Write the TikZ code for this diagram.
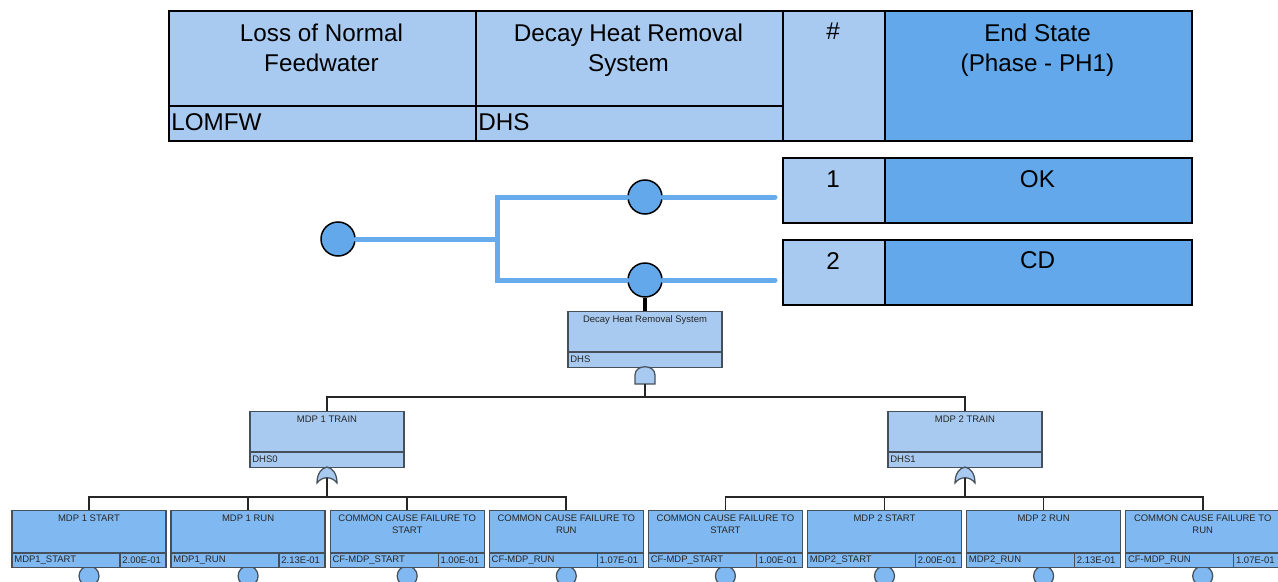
\documentclass[tikz,border=0pt]{standalone}
\usepackage{fontspec}
\setmainfont{Liberation Sans}

\definecolor{celllight}{HTML}{A8CAF0}
\definecolor{celldark}{HTML}{62A8EA}
\definecolor{eventfill}{HTML}{80B9F2}
\definecolor{treeline}{HTML}{66ACEC}
\definecolor{boxedge}{HTML}{46505A}

\tikzset{
  cell/.style={draw=black, line width=0.4mm, anchor=north west, inner sep=0pt},
  bigtxt/.style={font=\fontsize{13.8}{17}\selectfont, inner sep=0pt},
  smalltxt/.style={font=\fontsize{5.4}{6.8}\selectfont, inner sep=0pt, text=black!85},
  ftbox/.style={draw=boxedge, line width=0.25mm, anchor=north, minimum width=154*0.2mm, minimum height=56*0.2mm, inner sep=0pt},
  etnode/.style={circle, draw=black, fill=celldark, line width=0.3mm, minimum size=34*0.2mm, inner sep=0pt},
  etline/.style={draw=treeline, line width=1mm, line cap=round},
  ftline/.style={draw=black!85, line width=0.35mm},
}

\NewDocumentCommand{\gatebox}{mmmmm}{%
\begin{scope}[shift={(#2,#3)}]%
\node[ftbox, fill=celllight] (#1) at (0,0) {};
\draw[boxedge, line width=0.25mm] (-77,41) -- (77,41);
\node[smalltxt, anchor=north, align=center] (#1t) at (0,4.5) {#4};
\node[smalltxt, anchor=west] (#1i) at (-75,48.5) {#5};
\end{scope}%
}

\NewDocumentCommand{\basicevent}{mmmmm}{%
\begin{scope}[shift={(#2,510)}]%
\node[circle, draw=boxedge, fill=eventfill, line width=0.25mm, minimum size=20*0.2mm, inner sep=0pt] (#1c) at (0,66) {};
\node[ftbox, fill=eventfill, minimum height=57*0.2mm] (#1) at (0,0) {};
\draw[boxedge, line width=0.25mm] (-77,43) -- (77,43) (31,43) -- (31,57);
\node[smalltxt, anchor=north, align=center] (#1t) at (0,5) {#3};
\node[smalltxt, anchor=west] (#1i) at (-75,50) {#4};
\node[smalltxt, anchor=west] (#1v) at (33,50) {#5};
\end{scope}%
}

\NewDocumentCommand{\andgate}{mmm}{%
\begin{scope}[shift={(#2,#3)}]%
\draw[boxedge, fill=celllight, line width=0.25mm] (-10,18) -- (-10,9) .. controls (-10,-2) and (10,-2) .. (10,9) -- (10,18) -- cycle;
\coordinate (#1) at (0,18);
\end{scope}%
}

\NewDocumentCommand{\orgate}{mmm}{%
\begin{scope}[shift={(#2,#3)}]%
\draw[boxedge, fill=celllight, line width=0.25mm] (-10,16) .. controls (-10,6) and (-5,1) .. (0,0) .. controls (5,1) and (10,6) .. (10,16) .. controls (5,9) and (-5,9) .. (-10,16) -- cycle;
\coordinate (#1) at (0,11);
\end{scope}%
}

\begin{document}
\begin{tikzpicture}[x=0.2mm, y=-0.2mm]
        \useasboundingbox (0,0) rectangle (1278,581);

        % Header.
        \node[cell, fill=celllight, minimum width=307*0.2mm, minimum height=130*0.2mm] (hie) at (168,10) {};
        \node[cell, fill=celllight, minimum width=307*0.2mm, minimum height=130*0.2mm] (hdhs) at (475,10) {};
        \node[cell, fill=celllight, minimum width=102*0.2mm, minimum height=130*0.2mm] (hnum) at (782,10) {};
        \node[cell, fill=celldark, minimum width=307*0.2mm, minimum height=130*0.2mm] (hend) at (884,10) {};
        \draw[line width=0.4mm] (168,106) -- (782,106);
        \node[bigtxt, anchor=north, align=center] (hiet) at (321.5,24) {Loss of Normal\\Feedwater};
        \node[bigtxt, anchor=north, align=center] (hdhst) at (628.5,24) {Decay Heat Removal\\System};
        \node[bigtxt, anchor=base west] (hiei) at (171,130) {LOMFW};
        \node[bigtxt, anchor=base west] (hdhsi) at (478,130) {DHS};
        \node[bigtxt, anchor=base] (hnumt) at (833,40) {\#};
        \node[bigtxt, anchor=north, align=center] (hendt) at (1037.5,24) {End State\\(Phase - PH1)};

        % Sequences.
        \node[cell, fill=celllight, minimum width=102*0.2mm, minimum height=65*0.2mm] (s1num) at (782,157) {};
        \node[cell, fill=celldark, minimum width=307*0.2mm, minimum height=65*0.2mm] (s1end) at (884,157) {};
        \node[cell, fill=celllight, minimum width=102*0.2mm, minimum height=65*0.2mm] (s2num) at (782,239) {};
        \node[cell, fill=celldark, minimum width=307*0.2mm, minimum height=65*0.2mm] (s2end) at (884,239) {};
        \node[bigtxt, anchor=base] (s1numt) at (833,187) {1};
        \node[bigtxt, anchor=base] (s1endt) at (1037.5,187) {OK};
        \node[bigtxt, anchor=base] (s2numt) at (833,269) {2};
        \node[bigtxt, anchor=base] (s2endt) at (1037.5,268) {CD};

        % Event tree.
        \node[etnode] (lomfw) at (338,239) {};
        \coordinate (split) at (497,239);
        \node[etnode] (dhsok) at (645,197) {};
        \node[etnode] (dhsfail) at (645,280) {};
        \draw[etline] (lomfw) -- (split);
        \draw[etline] (split) |- (dhsok);
        \draw[etline] (split) |- (dhsfail);
        \draw[etline, shorten >=1.4mm] (dhsok) -- (dhsok -| s1num.west);
        \draw[etline, shorten >=1.4mm] (dhsfail) -- (dhsfail -| s2num.west);

        % Fault tree.
        \gatebox{dhs}{645}{311}{Decay Heat Removal System}{DHS}
        \draw[line width=0.8mm] (dhsfail) -- (dhs);
        \andgate{dhsand}{645}{366}
        \gatebox{train1}{327}{411}{MDP 1 TRAIN}{DHS0}
        \gatebox{train2}{965}{411}{MDP 2 TRAIN}{DHS1}
        \coordinate (bus0) at (645,397);
        \draw[ftline] (dhsand) -- (bus0) -| (train1.north);
        \draw[ftline] (bus0) -| (train2.north);
        \orgate{train1or}{327}{467}
        \orgate{train2or}{965}{467}

        \basicevent{mdp1start}{89}{MDP 1 START}{MDP1\_START}{2.00E-01}
        \basicevent{mdp1run}{248.1}{MDP 1 RUN}{MDP1\_RUN}{2.13E-01}
        \basicevent{ccf1start}{407.2}{COMMON CAUSE FAILURE TO\\START}{CF-MDP\_START}{1.00E-01}
        \basicevent{ccf1run}{566.3}{COMMON CAUSE FAILURE TO\\RUN}{CF-MDP\_RUN}{1.07E-01}
        \basicevent{ccf2start}{725.4}{COMMON CAUSE FAILURE TO\\START}{CF-MDP\_START}{1.00E-01}
        \basicevent{mdp2start}{884.5}{MDP 2 START}{MDP2\_START}{2.00E-01}
        \basicevent{mdp2run}{1043.6}{MDP 2 RUN}{MDP2\_RUN}{2.13E-01}
        \basicevent{ccf2run}{1202.7}{COMMON CAUSE FAILURE TO\\RUN}{CF-MDP\_RUN}{1.07E-01}

        \coordinate (bus1) at (327,497);
        \coordinate (bus2) at (965,497);
        \draw[ftline] (train1or) -- (bus1);
        \draw[ftline] (train2or) -- (bus2);
        \foreach \e in {mdp1start,mdp1run,ccf1start,ccf1run} {\draw[ftline] (bus1) -| (\e.north);}
        \foreach \e in {ccf2start,mdp2start,mdp2run,ccf2run} {\draw[ftline] (bus2) -| (\e.north);}
    \end{tikzpicture}
\end{document}
